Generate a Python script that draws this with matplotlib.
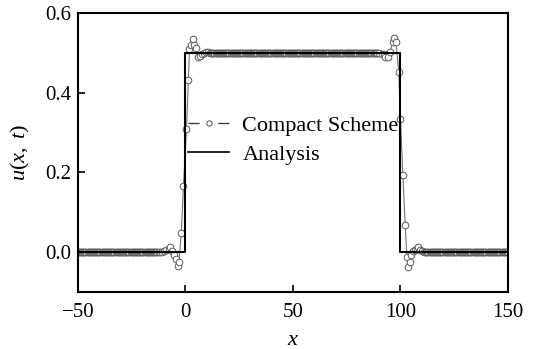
import numpy as np
import matplotlib.pyplot as plt
from matplotlib.lines import Line2D

plt.rcParams['font.family'] = ['Liberation Serif', 'DejaVu Serif']
plt.rcParams['mathtext.fontset'] = 'custom'
plt.rcParams['mathtext.rm'] = 'Liberation Serif'
plt.rcParams['mathtext.it'] = 'Liberation Serif:italic'

# compact scheme solution, flat parts
x_low_left = np.arange(-50.0, -12.0, 0.5)
x_top = np.arange(11.5, 89.0, 0.5)
x_low_right = np.arange(111.5, 150.01, 0.5)
u_low = 0.0
u_top = 0.5

# around the rising edge at x = 0
x_rise = [-12.0, -10.8, -9.8, -8.8, -7.8, -7.0, -6.2, -5.2, -4.4, -3.6, -3.0,
          -1.9, -0.9, 0.5, 1.4, 1.9, 2.6, 3.4, 4.2, 4.9, 5.9, 7.0, 7.8, 8.8,
          9.8, 10.7]
u_rise = [0.0, 0.0, 0.002, 0.005, 0.009, 0.012, 0.004, -0.006, -0.018, -0.035,
          -0.024, 0.049, 0.167, 0.308, 0.433, 0.51, 0.52, 0.535, 0.52, 0.512,
          0.49, 0.493, 0.497, 0.5, 0.502, 0.503]

# around the falling edge at x = 100
x_fall = [89.2, 90.2, 91.2, 92.2, 93.0, 94.4, 95.3, 96.3, 97.0, 97.9, 99.2,
          100.0, 101.1, 102.2, 103.0, 103.6, 104.3, 105.0, 105.8, 106.6, 107.5,
          108.3, 109.1, 110.0, 111.0]
u_fall = [0.5, 0.5, 0.498, 0.496, 0.49, 0.49, 0.503, 0.527, 0.537, 0.527,
          0.453, 0.334, 0.193, 0.068, -0.011, -0.036, -0.024, -0.006, 0.004,
          0.005, 0.008, 0.012, 0.006, 0.002, 0.0]

x_num = np.concatenate([x_low_left, x_rise, x_top, x_fall, x_low_right])
u_num = np.concatenate([np.full(len(x_low_left), u_low), u_rise,
                        np.full(len(x_top), u_top), u_fall,
                        np.full(len(x_low_right), u_low)])

# exact square pulse
x_exact = [-50, 0, 0, 100, 100, 150]
u_exact = [0.0, 0.0, 0.5, 0.5, 0.0, 0.0]

fig = plt.figure(figsize=(5.37, 3.49), dpi=100)
ax = fig.add_axes([0.145, 0.163, 0.801, 0.8])

ax.plot(x_num, u_num, '-', color='0.45', lw=0.8, marker='o', ms=4.8,
        mfc='white', mec='0.35', mew=0.7, zorder=2)
ax.plot(x_exact, u_exact, '-', color='black', lw=1.5, zorder=3)

ax.set_xlim(-50, 150)
ax.set_ylim(-0.1, 0.6)
ax.set_xticks([-50, 0, 50, 100, 150])
ax.set_yticks([0.0, 0.2, 0.4, 0.6])
ax.set_yticklabels(['0.0', '0.2', '0.4', '0.6'])
ax.tick_params(direction='in', length=5, width=1.2, labelsize=15, pad=5)
ax.tick_params(axis='x', labelsize=15, pad=8)
for sp in ax.spines.values():
    sp.set_linewidth(1.5)

ax.set_xlabel(r'$x$', fontsize=16, labelpad=6)
ax.set_ylabel(r'$u(x,\ t)$', fontsize=16, labelpad=9)

handles = [
    Line2D([], [], color='0.25', lw=1.0, ls=(0, (8, 13.5)), marker='o', ms=3.8,
           mfc='white', mec='0.3', mew=0.7),
    Line2D([], [], color='black', lw=1.2),
]
ax.legend(handles, ['Compact Scheme', 'Analysis'], loc='upper left',
          bbox_to_anchor=(0.236, 0.665), frameon=False, fontsize=16,
          handlelength=1.84, handletextpad=0.6, labelspacing=0.38,
          borderaxespad=0)

fig.savefig('out.png', dpi=100)
